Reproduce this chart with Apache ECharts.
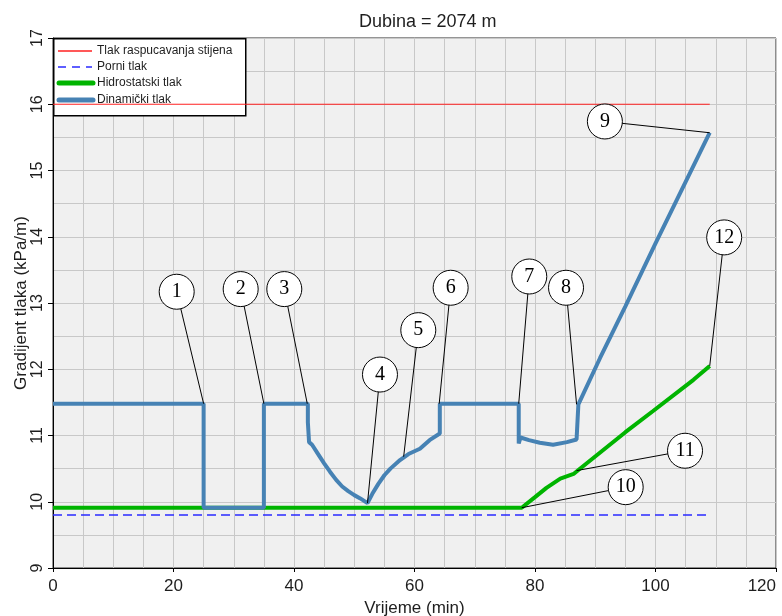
<!DOCTYPE html>
<html>
<head>
<meta charset="utf-8">
<script src="https://cdn.jsdelivr.net/npm/echarts@6/dist/echarts.min.js"></script>
<style>html,body{margin:0;padding:0;background:#fff}#c{width:782px;height:616px}</style>
</head>
<body>
<div id="c"></div>
<script>
// ---- data ----
var titleText = 'Dubina = 2074 m';
var xName = 'Vrijeme (min)';
var yName = 'Gradijent tlaka (kPa/m)';
var seriesNames = ['Tlak raspucavanja stijena', 'Porni tlak', 'Hidrostatski tlak', 'Dinamički tlak'];

var fracX = [0, 109];
var fracY = [16, 16];

var poreX = [0, 109];
var poreY = [9.8, 9.8];

var hydroX = [0, 77.8, 80, 81.9, 84.2, 86.4, 87.2, 95, 99.6, 106.3, 109];
var hydroY = [9.91, 9.91, 10.07, 10.21, 10.35, 10.42, 10.48, 11.05, 11.37, 11.84, 12.05];

var dynX = [0, 25, 25, 35, 35, 42.3, 42.3, 42.5, 42.5, 43, 44, 45, 46, 47, 48, 49, 50, 51, 52.2, 53, 54, 55, 56, 57.6, 59, 60.9, 62.5, 64.2, 64.2, 77.3, 77.3, 77.6, 79, 80.8, 83, 85.3, 86.9, 87.2, 90.8, 95, 100, 105, 109];
var dynY = [11.48, 11.48, 9.91, 9.91, 11.48, 11.48, 11.2, 11.2, 10.9, 10.86, 10.72, 10.58, 10.45, 10.33, 10.23, 10.16, 10.1, 10.05, 9.98, 10.12, 10.27, 10.4, 10.5, 10.63, 10.72, 10.8, 10.93, 11.03, 11.48, 11.48, 10.88, 10.97, 10.93, 10.89, 10.86, 10.9, 10.94, 11.47, 12.17, 12.95, 13.9, 14.83, 15.57];

// callouts: label, circle centre (data), pointed location (data)
var calloutLabels = ['1', '2', '3', '4', '5', '6', '7', '8', '9', '10', '11', '12'];
var calloutCx = [20.53, 31.15, 38.39, 54.27, 60.63, 66.0, 79.05, 85.15, 91.6, 95.05, 104.9, 111.4];
var calloutCy = [13.17, 13.21, 13.21, 11.92, 12.59, 13.23, 13.40, 13.23, 15.74, 10.22, 10.77, 13.99];
var calloutTx = [25, 35, 42.2, 52.2, 58.2, 64.1, 77.3, 86.9, 109, 77.8, 86.9, 109];
var calloutTy = [11.48, 11.48, 11.48, 9.98, 10.68, 11.48, 11.48, 11.47, 15.57, 9.91, 10.47, 12.05];

var xMin = 0, xMax = 120, xStep = 20;
var yMin = 9, yMax = 17, yStep = 1;

// ---- build ----
function zip(a, b) { return a.map(function (v, i) { return [v, b[i]]; }); }
var font = 'Liberation Sans, Arial, sans-serif';
var textCol = '#1e1e1e';
var gridCol = '#c8c8c8';
var colors = ['#ff2020', '#2a2aff', '#00b400', '#4682b4'];
var legendWidths = [1.5, 1.5, 5, 5];
var legendDash = [null, [8, 6], null, null];

var leaderData = calloutLabels.map(function (l, i) {
  return { coords: [[calloutCx[i], calloutCy[i]], [calloutTx[i], calloutTy[i]]] };
});
var circleData = calloutLabels.map(function (l, i) {
  return { value: [calloutCx[i], calloutCy[i]], name: l };
});

// legend drawn as graphic (below the series so the red line crosses it)
var legendEls = [{
  type: 'rect', z: 1, silent: true,
  shape: { x: 53.75, y: 38.75, width: 192, height: 77 },
  style: { fill: '#fff', stroke: '#000', lineWidth: 1.5 }
}];
var rowY = [51, 67, 83, 100];
seriesNames.forEach(function (n, i) {
  legendEls.push({
    type: 'line', z: 1, silent: true,
    shape: { x1: legendWidths[i] > 2 ? 59 : 58, y1: rowY[i], x2: legendWidths[i] > 2 ? 93 : 92, y2: rowY[i] },
    style: { stroke: colors[i], lineWidth: legendWidths[i], lineDash: legendDash[i], lineCap: legendWidths[i] > 2 ? 'round' : 'butt' }
  });
  legendEls.push({
    type: 'text', z: 1, silent: true, x: 97, y: rowY[i],
    style: { text: n, fill: textCol, font: '12px Liberation Sans, Arial, sans-serif', verticalAlign: 'middle', align: 'left' }
  });
});

var chart = echarts.init(document.getElementById('c'), null, { renderer: 'canvas' });
chart.setOption({
  animation: false,
  backgroundColor: '#fff',
  title: {
    text: titleText, left: 359, top: 13, padding: 0,
    textStyle: { fontFamily: font, fontSize: 18, fontWeight: 'normal', color: textCol }
  },
  grid: {
    left: 53, right: 6, top: 38, bottom: 48, show: true, outerBoundsMode: 'none', containLabel: false,
    backgroundColor: '#f0f0f0', borderColor: '#2a2a2a', borderWidth: 1
  },
  graphic: legendEls,
  xAxis: {
    type: 'value', min: xMin, max: xMax, interval: xStep,
    name: xName, nameLocation: 'middle', nameGap: 32, nameMoveOverlap: false,
    nameTextStyle: { fontFamily: font, fontSize: 17, color: textCol },
    axisLine: { show: true, onZero: false, lineStyle: { color: '#000', width: 1 } },
    axisTick: { show: true, length: 4, lineStyle: { color: '#000' } },
    axisLabel: { fontFamily: font, fontSize: 17, color: textCol, margin: 10, alignMaxLabel: 'right' },
    splitLine: { show: true, lineStyle: { color: gridCol, width: 1 } },
    minorTick: { show: true, splitNumber: 4, length: 0 },
    minorSplitLine: { show: true, lineStyle: { color: gridCol, width: 1 } }
  },
  yAxis: {
    type: 'value', min: yMin, max: yMax, interval: yStep,
    name: yName, nameLocation: 'middle', nameGap: 23, nameMoveOverlap: false,
    nameTextStyle: { fontFamily: font, fontSize: 17, color: textCol },
    axisLine: { show: true, onZero: false, lineStyle: { color: '#000', width: 1 } },
    axisTick: { show: true, length: 5, lineStyle: { color: '#000' } },
    axisLabel: { fontFamily: font, fontSize: 16, color: textCol, margin: 7, rotate: 90 },
    splitLine: { show: true, lineStyle: { color: gridCol, width: 1 } },
    minorTick: { show: true, splitNumber: 2, length: 0 },
    minorSplitLine: { show: true, lineStyle: { color: gridCol, width: 1 } }
  },
  series: [
    {
      name: seriesNames[0], type: 'line', data: zip(fracX, fracY), symbol: 'none', z: 3,
      lineStyle: { color: colors[0], width: 1.2 }
    },
    {
      name: seriesNames[1], type: 'line', data: zip(poreX, poreY), symbol: 'none', z: 3,
      lineStyle: { color: colors[1], width: 1.4, type: [9, 5] }
    },
    {
      name: seriesNames[2], type: 'line', data: zip(hydroX, hydroY), symbol: 'none', z: 4,
      lineStyle: { color: colors[2], width: 4 }
    },
    {
      name: seriesNames[3], type: 'line', data: zip(dynX, dynY), symbol: 'none', z: 5,
      lineStyle: { color: colors[3], width: 4 }
    },
    {
      name: 'leaders', type: 'lines', coordinateSystem: 'cartesian2d', polyline: false, z: 6,
      data: leaderData, lineStyle: { color: '#000', width: 1, opacity: 1 }, silent: true
    },
    {
      name: 'callouts', type: 'scatter', data: circleData, symbol: 'circle', symbolSize: 35, z: 7,
      itemStyle: { color: '#fff', borderColor: '#000', borderWidth: 1, opacity: 1 },
      label: {
        show: true, position: 'inside', formatter: '{b}',
        fontFamily: 'Liberation Serif, Times New Roman, serif', fontSize: 20, color: '#000'
      },
      silent: true
    }
  ]
});
</script>
</body>
</html>
